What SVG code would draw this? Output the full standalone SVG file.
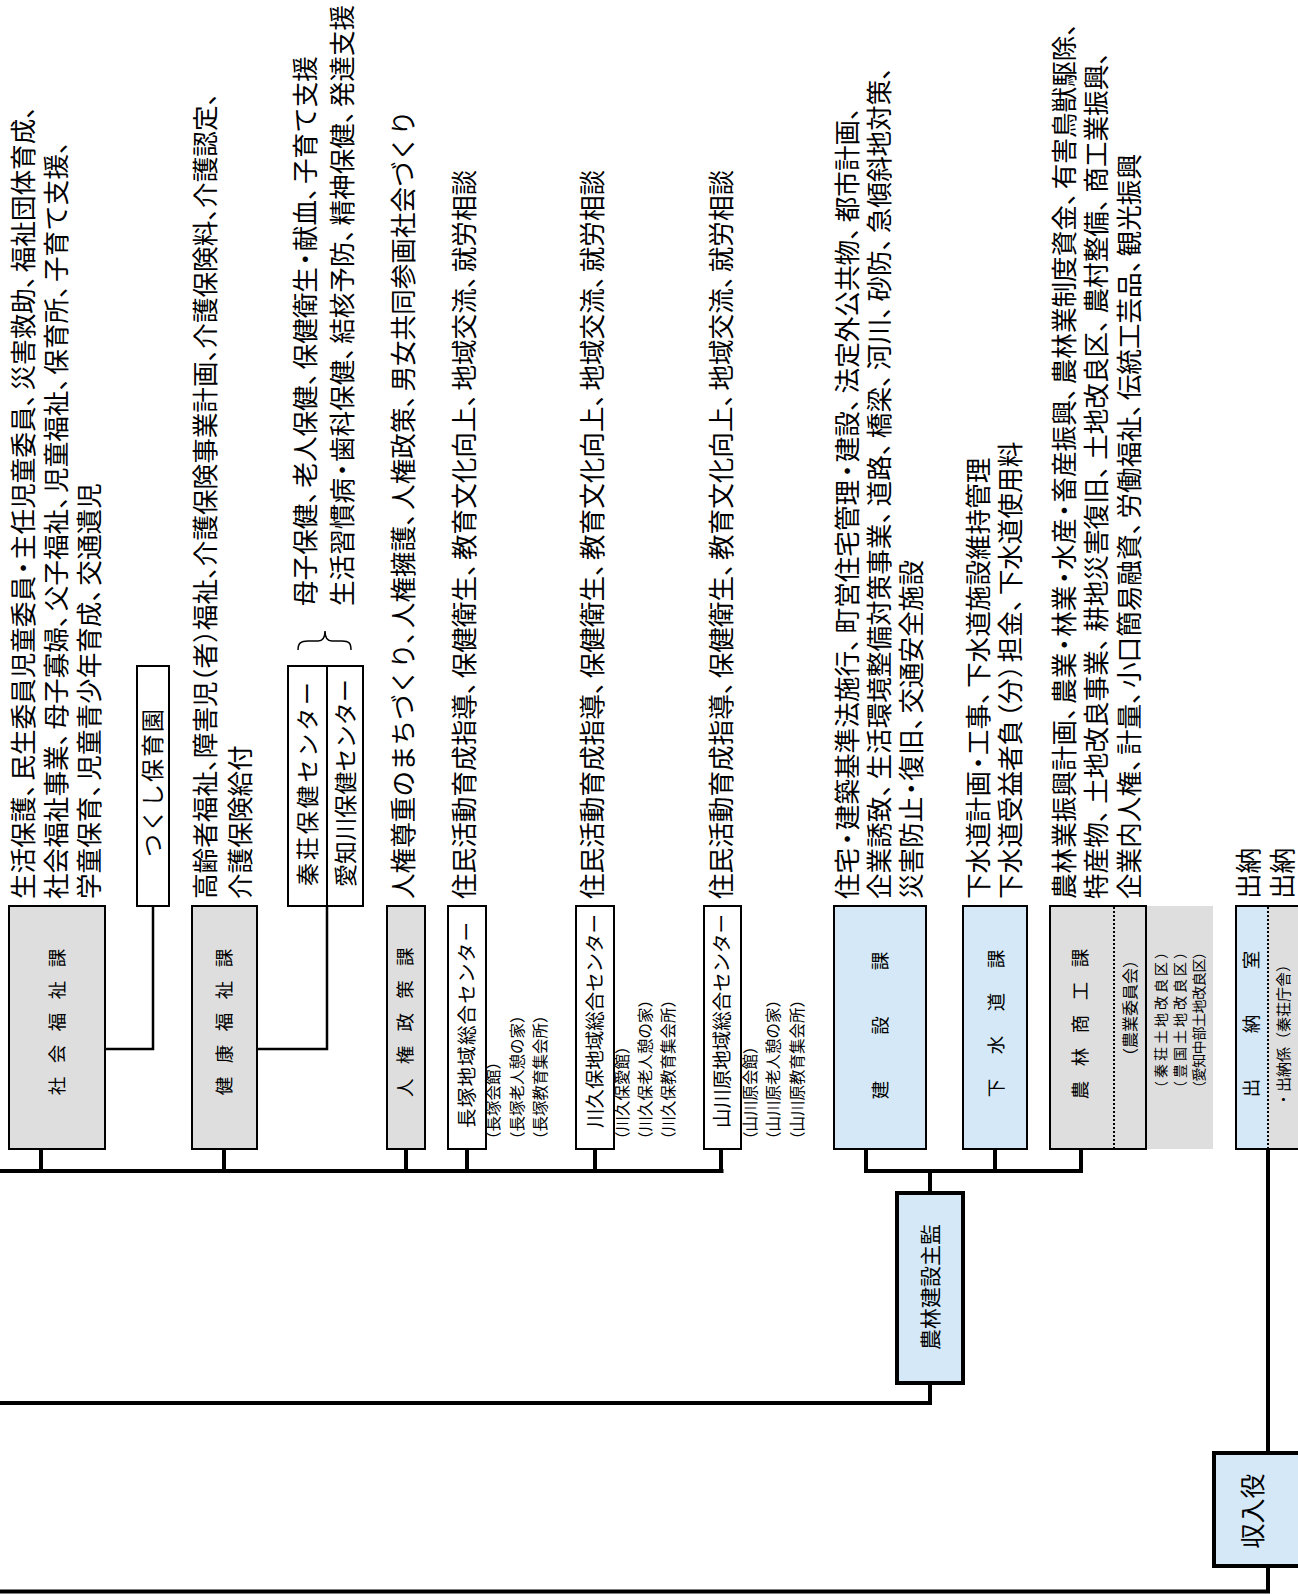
<svg xmlns="http://www.w3.org/2000/svg" width="1298" height="1594" viewBox="0 0 1298 1594">
<style>
text { font-family: "Noto Sans CJK JP", "Noto Sans CJK SC", sans-serif; fill: #000; }
.m { font-size: 25.6px; }
.sm { font-size: 15.5px; }
.lb { font-size: 18.5px; }
.bx { font-size: 19.5px; }
.gray { fill: #dedede; stroke: #000; stroke-width: 2; }
.blue { fill: #d4e8f7; stroke: #000; stroke-width: 2; }
.white { fill: #fff; stroke: #000; stroke-width: 2; }
.thick { stroke-width: 4; }
.conn { fill: none; stroke: #000; stroke-width: 4; }
.thin { fill: none; stroke: #000; stroke-width: 2.5; }
.dot { fill: none; stroke: #000; stroke-width: 2; stroke-dasharray: 2 2; }
</style>
<rect x="0" y="0" width="1298" height="1594" fill="#fff"/>

<g id="connectors">
  <path class="conn" d="M0,1171 H723.5 M41,1149 V1171 M224,1149 V1171 M406,1149 V1171 M467,1149 V1171 M595,1149 V1171 M721,1149 V1171"/>
  <path class="thin" d="M153,906 V1049 H105 M327,906 V1049 H257"/>
  <path class="conn" d="M864,1171 H1083 M866,1149 V1171 M995,1149 V1171 M1081,1149 V1171 M930,1171 V1193"/>
  <path class="conn" d="M930,1383 V1403 H0"/>
  <path class="conn" d="M1268,1149 V1453 M1268,1566 V1591.5 H0"/>
</g>

<g id="shakai-fukushi">
  <rect class="gray" x="9" y="906" width="96" height="243"/>
  <g transform="rotate(-90)">
    <text class="lb" x="-1095.25" y="64" letter-spacing="13.5">社会福祉課</text>
    <text class="m" x="-899" y="32.7">生活保護、<tspan dx="-9.7">民生委員児童委員</tspan><tspan dx="-4.85">・</tspan><tspan dx="-4.85">主任児童委員、</tspan><tspan dx="-9.7">災害救助、</tspan><tspan dx="-9.7">福祉団体育成、</tspan></text>
    <text class="m" x="-899" y="65.7">社会福祉事業、<tspan dx="-9.7">母子寡婦、</tspan><tspan dx="-9.7">父子福祉、</tspan><tspan dx="-9.7">児童福祉、</tspan><tspan dx="-9.7">保育所、</tspan><tspan dx="-9.7">子育て支援、</tspan></text>
    <text class="m" x="-899" y="98.7">学童保育、<tspan dx="-9.7">児童青少年育成、</tspan><tspan dx="-9.7">交通遺児</tspan></text>
  </g>
</g>

<g id="tsukushi-hoikuen">
  <rect class="white" x="137" y="666" width="32" height="240"/>
  <g transform="rotate(-90)">
    <text x="-857" y="160.7" font-size="23" textLength="148">つくし保育園</text>
  </g>
</g>

<g id="kenko-fukushi">
  <rect class="gray" x="192" y="906" width="65" height="243"/>
  <g transform="rotate(-90)">
    <text class="lb" x="-1095.25" y="231" letter-spacing="13.5">健康福祉課</text>
    <text class="m" x="-899" y="214.7">高齢者福祉、<tspan dx="-12.8">障害児</tspan><tspan dx="-12.8">（者）</tspan><tspan dx="-12.8">福祉、</tspan><tspan dx="-12.8">介護保険事業計画、</tspan><tspan dx="-12.8">介護保険料、</tspan><tspan dx="-12.8">介護認定、</tspan></text>
    <text class="m" x="-899" y="249.7">介護保険給付</text>
  </g>
</g>

<g id="hoken-center">
  <rect class="white" x="288" y="666" width="39" height="240"/>
  <rect class="white" x="327" y="666" width="36" height="240"/>
  <path d="M298,650 C298,643 301,641 308,641 L318,641 C323,641 325,638 325,631 C325,638 327,641 332,641 L342,641 C349,641 351,643 351,650" fill="none" stroke="#000" stroke-width="1.5"/>
  <g transform="rotate(-90)">
    <text x="-886" y="315.7" font-size="23" textLength="204">秦荘保健センター</text>
    <text x="-887" y="353.7" font-size="23" textLength="208">愛知川保健センター</text>
    <text class="m" x="-606" y="314.7">母子保健、<tspan dx="-9.7">老人保健、</tspan><tspan dx="-9.7">保健衛生</tspan><tspan dx="-4.85">・</tspan><tspan dx="-4.85">献血、</tspan><tspan dx="-9.7">子育て支援</tspan></text>
    <text class="m" x="-606" y="351.7">生活習慣病<tspan dx="-4.85">・</tspan><tspan dx="-4.85">歯科保健、</tspan><tspan dx="-9.7">結核予防、</tspan><tspan dx="-9.7">精神保健、</tspan><tspan dx="-9.7">発達支援</tspan></text>
  </g>
</g>

<g id="jinken-seisaku">
  <rect class="gray" x="387" y="906" width="38" height="243"/>
  <g transform="rotate(-90)">
    <text class="lb" x="-1097" y="412" letter-spacing="14.25">人権政策課</text>
    <text class="m" x="-899" y="412.7">人権尊重のまちづくり、<tspan dx="-9.7">人権擁護、</tspan><tspan dx="-9.7">人権政策、</tspan><tspan dx="-9.7">男女共同参画社会づくり</tspan></text>
  </g>
</g>

<g id="nagatsuka-center">
  <rect class="white" x="448" y="906" width="38" height="243"/>
  <g transform="rotate(-90)">
    <text class="bx" x="-1128" y="474.4" textLength="206">長塚地域総合センター</text>
    <text class="m" x="-899" y="473.7">住民活動育成指導、<tspan dx="-9.7">保健衛生、</tspan><tspan dx="-9.7">教育文化向上、</tspan><tspan dx="-9.7">地域交流、</tspan><tspan dx="-9.7">就労相談</tspan></text>
    <text class="sm" x="-1147" y="498.8">（長塚会館）</text>
    <text class="sm" x="-1147" y="522.8">（長塚老人憩の家）</text>
    <text class="sm" x="-1147" y="545.8">（長塚教育集会所）</text>
  </g>
</g>

<g id="kawakubo-center">
  <rect class="white" x="576" y="906" width="38" height="243"/>
  <g transform="rotate(-90)">
    <text class="bx" x="-1128" y="602.4" textLength="214">川久保地域総合センター</text>
    <text class="m" x="-899" y="601.7">住民活動育成指導、<tspan dx="-9.7">保健衛生、</tspan><tspan dx="-9.7">教育文化向上、</tspan><tspan dx="-9.7">地域交流、</tspan><tspan dx="-9.7">就労相談</tspan></text>
    <text class="sm" x="-1147" y="627.8">（川久保愛館）</text>
    <text class="sm" x="-1147" y="650.8">（川久保老人憩の家）</text>
    <text class="sm" x="-1147" y="673.8">（川久保教育集会所）</text>
  </g>
</g>

<g id="yamakawara-center">
  <rect class="white" x="704" y="906" width="37" height="243"/>
  <g transform="rotate(-90)">
    <text class="bx" x="-1128" y="729.4" textLength="214">山川原地域総合センター</text>
    <text class="m" x="-899" y="730.7">住民活動育成指導、<tspan dx="-9.7">保健衛生、</tspan><tspan dx="-9.7">教育文化向上、</tspan><tspan dx="-9.7">地域交流、</tspan><tspan dx="-9.7">就労相談</tspan></text>
    <text class="sm" x="-1147" y="755.8">（山川原会館）</text>
    <text class="sm" x="-1147" y="778.8">（山川原老人憩の家）</text>
    <text class="sm" x="-1147" y="802.8">（山川原教育集会所）</text>
  </g>
</g>

<g id="kensetsu">
  <rect class="blue" x="834" y="906" width="92" height="243"/>
  <g transform="rotate(-90)">
    <text class="lb" x="-1099.25" y="887" letter-spacing="46">建設課</text>
    <text class="m" x="-899" y="856.7">住宅<tspan dx="-4">・</tspan><tspan dx="-4">建築基準法施行、</tspan><tspan dx="-8">町営住宅管理</tspan><tspan dx="-4">・</tspan><tspan dx="-4">建設、</tspan><tspan dx="-8">法定外公共物、</tspan><tspan dx="-8">都市計画、</tspan></text>
    <text class="m" x="-899" y="888.7">企業誘致、<tspan dx="-8.5">生活環境整備対策事業、</tspan><tspan dx="-8.5">道路、</tspan><tspan dx="-8.5">橋梁、</tspan><tspan dx="-8.5">河川、</tspan><tspan dx="-8.5">砂防、</tspan><tspan dx="-8.5">急傾斜地対策、</tspan></text>
    <text class="m" x="-899" y="920.7">災害防止<tspan dx="-4.85">・</tspan><tspan dx="-4.85">復旧、</tspan><tspan dx="-9.7">交通安全施設</tspan></text>
  </g>
</g>

<g id="gesuido">
  <rect class="blue" x="963" y="906" width="64" height="243"/>
  <g transform="rotate(-90)">
    <text class="lb" x="-1097.25" y="1003" letter-spacing="24.5">下水道課</text>
    <text class="m" x="-899" y="987.7">下水道計画<tspan dx="-4.85">・</tspan><tspan dx="-4.85">工事、</tspan><tspan dx="-9.7">下水道施設維持管理</tspan></text>
    <text class="m" x="-899" y="1019.7">下水道受益者負<tspan dx="-9.7">（分）</tspan><tspan dx="-9.7">担金、</tspan><tspan dx="-9.7">下水道使用料</tspan></text>
  </g>
</g>

<g id="norin-shoko">
  <rect x="1146" y="906" width="67" height="243" fill="#dedede"/>
  <rect class="gray" x="1050" y="906" width="96" height="243"/>
  <line class="dot" x1="1114" y1="907" x2="1114" y2="1148"/>
  <g transform="rotate(-90)">
    <text class="lb" x="-1099.25" y="1087" letter-spacing="14.5">農林商工課</text>
    <text x="-1008" y="1136.1" font-size="16" text-anchor="middle">（農業委員会）</text>
    <text x="-1095" y="1166.3" font-size="14" textLength="150">（秦荘土地改良区）</text>
    <text x="-1095" y="1185.3" font-size="14" textLength="150">（豊国土地改良区）</text>
    <text x="-1095" y="1204.3" font-size="14" textLength="150">（愛知中部土地改良区）</text>
    <text class="m" x="-899" y="1073.7">農林業振興計画、<tspan dx="-9.7">農業</tspan><tspan dx="-4.85">・</tspan><tspan dx="-4.85">林業</tspan><tspan dx="-4.85">・</tspan><tspan dx="-4.85">水産</tspan><tspan dx="-4.85">・</tspan><tspan dx="-4.85">畜産振興、</tspan><tspan dx="-9.7">農林業制度資金、</tspan><tspan dx="-9.7">有害鳥獣駆除、</tspan></text>
    <text class="m" x="-899" y="1105.7">特産物、<tspan dx="-7.2">土地改良事業、</tspan><tspan dx="-7.2">耕地災害復旧、</tspan><tspan dx="-7.2">土地改良区、</tspan><tspan dx="-7.2">農村整備、</tspan><tspan dx="-7.2">商工業振興、</tspan></text>
    <text class="m" x="-899" y="1138.7">企業内人権、<tspan dx="-9.7">計量、</tspan><tspan dx="-9.7">小口簡易融資、</tspan><tspan dx="-9.7">労働福祉、</tspan><tspan dx="-9.7">伝統工芸品、</tspan><tspan dx="-9.7">観光振興</tspan></text>
  </g>
</g>

<g id="suitoshitsu">
  <rect x="1268" y="906" width="40" height="243" fill="#dedede"/>
  <rect x="1236" y="906" width="32" height="243" fill="#d4e8f7"/>
  <path d="M1310,906 H1236 V1149 H1310" fill="none" stroke="#000" stroke-width="2"/>
  <line class="dot" x1="1268" y1="907" x2="1268" y2="1148"/>
  <g transform="rotate(-90)">
    <text class="lb" x="-1097.25" y="1258" letter-spacing="45.5">出納室</text>
    <text x="-1032" y="1288.7" font-size="15" text-anchor="middle">・出納係（秦荘庁舎）</text>
    <text class="m" x="-899" y="1258.2">出納</text>
    <text class="m" x="-899" y="1291.7">出納</text>
  </g>
</g>

<g id="norin-kensetsu-shukan">
  <rect class="blue thick" x="897" y="1193" width="66" height="190"/>
  <g transform="rotate(-90)">
    <text x="-1287" y="938" font-size="21" text-anchor="middle">農林建設主監</text>
  </g>
</g>

<g id="shunyuyaku">
  <rect class="blue thick" x="1214" y="1453" width="100" height="113"/>
  <g transform="rotate(-90)">
    <text x="-1511" y="1262" font-size="25" text-anchor="middle">収入役</text>
  </g>
</g>
</svg>
